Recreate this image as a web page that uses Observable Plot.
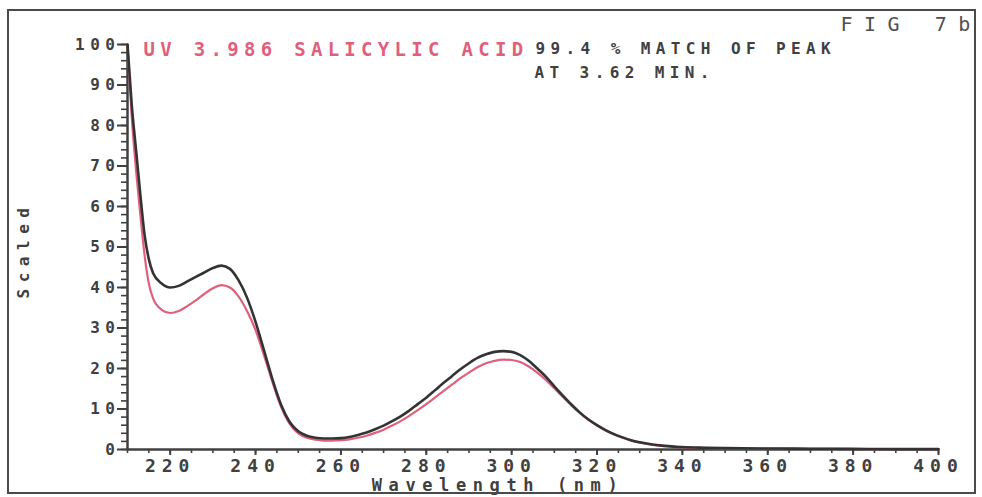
<!DOCTYPE html>
<html>
<head>
<meta charset="utf-8">
<script src="https://cdn.jsdelivr.net/npm/d3@7"></script>
<script src="https://cdn.jsdelivr.net/npm/@observablehq/plot@0.6"></script>
<style>
  html, body { margin: 0; padding: 0; background: #fff; }
  #wrap { position: relative; width: 982px; height: 497px; overflow: hidden; }
  #border { position: absolute; left: 7px; top: 9px; width: 969px; height: 485px; border: 2px solid #4a4a4a; box-sizing: border-box; pointer-events: none; }
  svg { display: block; }
</style>
</head>
<body>
<div id="wrap"><div id="border"></div></div>
<script>
// Wavelength (nm)
const wavelengths = [210,211,212,213,214,215,216,218,220,222,224,226,228,230,232,234,236,238,240,242,244,246,248,250,252,254,256,258,260,262,264,266,268,270,272,274,276,278,280,282,284,286,288,290,292,294,296,298,300,302,304,306,308,310,312,314,316,318,320,322,324,326,328,330,332,334,336,338,340,345,350,360,370,380,390,400];
// Sample spectrum (black)
const sampleValues = [100,85,74,63,53,47,43.5,41,40,40.4,41.5,42.6,43.7,44.8,45.4,44.6,41.8,37.5,31.5,24.4,17.2,11,6.8,4.5,3.4,2.9,2.7,2.7,2.8,3.1,3.6,4.2,5,5.9,7,8.2,9.6,11.2,12.8,14.6,16.4,18.1,19.8,21.3,22.6,23.5,24.1,24.3,24.1,23.3,21.9,20,18,15.6,13.3,11.1,9.1,7.4,6,4.8,3.8,3,2.3,1.8,1.4,1.1,0.9,0.7,0.6,0.45,0.35,0.25,0.2,0.15,0.1,0.1];
// Library spectrum: UV 3.986 Salicylic acid (red)
const libraryValues = [100,82,69,58,48,41,37.3,34.5,33.7,34.2,35.4,36.8,38.4,39.8,40.6,40,37.8,34.2,29.5,23.2,16.5,10.5,6.3,4,2.9,2.4,2.2,2.2,2.3,2.5,2.9,3.4,4.1,4.9,5.9,7,8.3,9.7,11.2,12.8,14.4,16,17.6,19,20.3,21.3,21.9,22.2,22.1,21.6,20.5,19,17.2,15.1,13,10.9,9,7.3,5.9,4.7,3.7,2.9,2.2,1.7,1.3,1,0.8,0.65,0.55,0.4,0.3,0.2,0.15,0.12,0.1,0.1];

const xMajorTicks = [220,240,260,280,300,320,340,360,380,400];
const xMinorTicks = d3.range(210, 401, 5);
const yMajorTicks = [0,10,20,30,40,50,60,70,80,90,100];
const yMinorTicks = d3.range(0, 101, 2);

const titleText = "UV 3.986 SALICYLIC ACID";
const matchLines = ["99.4 % MATCH OF PEAK", "AT 3.62 MIN."];
const figText = "FIG 7b";
const yLabel = "Scaled";
const xLabel = "Wavelength (nm)";

const sampleRows = wavelengths.map((w, i) => ({w, v: sampleValues[i]}));
const libraryRows = wavelengths.map((w, i) => ({w, v: libraryValues[i]}));

const AX = "#404040";
const RED = "#e0607c";
const FONT = "DejaVu Sans Mono";

const chart = Plot.plot({
  width: 982,
  height: 497,
  marginLeft: 127,
  marginRight: 44,
  marginTop: 44,
  marginBottom: 48,
  x: {domain: [210, 400], label: null},
  y: {domain: [0, 100], label: null},
  style: {fontFamily: FONT, background: "transparent", color: AX},
  marks: [
    Plot.axisY({ticks: yMinorTicks, tickSize: 6, text: null, label: null, stroke: AX, strokeWidth: 1.6, strokeOpacity: 1}),
    Plot.axisY({ticks: yMajorTicks, tickSize: 10, tickPadding: -3, label: null, tickFormat: d => String(d), fontSize: 16, fontWeight: "bold", fill: AX, stroke: AX, strokeWidth: 2, strokeOpacity: 1}),
    Plot.axisX({ticks: xMinorTicks, tickSize: 4, text: null, label: null, stroke: AX, strokeWidth: 1.6, strokeOpacity: 1}),
    Plot.axisX({ticks: xMajorTicks, tickSize: 6, tickPadding: 4, label: null, tickFormat: d => String(d), fontSize: 18, fontWeight: "bold", fill: AX, stroke: AX, strokeWidth: 2, strokeOpacity: 1}),
    Plot.ruleX([210], {stroke: AX, strokeWidth: 2.5}),
    Plot.ruleY([0], {stroke: AX, strokeWidth: 2.5}),
    Plot.line(libraryRows, {x: "w", y: "v", stroke: RED, strokeWidth: 2.2, curve: "monotone-x"}),
    Plot.line(sampleRows, {x: "w", y: "v", stroke: "#333", strokeWidth: 2.6, curve: "monotone-x"}),
    Plot.text([titleText], {frameAnchor: "top-left", dx: 16, dy: 11, textAnchor: "start", lineAnchor: "bottom", fill: RED, fontSize: 19, fontWeight: "bold", className: "t-title"}),
    Plot.text([matchLines[0]], {frameAnchor: "top-left", dx: 408, dy: 9, textAnchor: "start", lineAnchor: "bottom", fill: AX, fontSize: 16, fontWeight: "bold", className: "t-match"}),
    Plot.text([matchLines[1]], {frameAnchor: "top-left", dx: 407, dy: 33, textAnchor: "start", lineAnchor: "bottom", fill: AX, fontSize: 16, fontWeight: "bold", className: "t-match"}),
    Plot.text([figText], {frameAnchor: "top-left", dx: 713, dy: -14, textAnchor: "start", lineAnchor: "bottom", fill: "#505050", fontSize: 20, className: "t-fig"}),
    Plot.text([yLabel], {frameAnchor: "left", dx: -104, dy: 3, rotate: -90, textAnchor: "middle", lineAnchor: "middle", fill: AX, fontSize: 16, fontWeight: "bold", className: "t-ylab"}),
    Plot.text([xLabel], {frameAnchor: "bottom", dx: -35, dy: 41, textAnchor: "middle", lineAnchor: "bottom", fill: AX, fontSize: 17, fontWeight: "bold", className: "t-xlab"})
  ]
});

document.getElementById("wrap").prepend(chart);

const s = d3.select(chart);
s.selectAll("g[aria-label='y-axis tick label'] text").style("letter-spacing", "5.5px");
s.selectAll("g[aria-label='x-axis tick label'] text").style("letter-spacing", "6px");
s.selectAll(".t-title text").style("letter-spacing", "5.3px");
s.selectAll(".t-match text").style("letter-spacing", "5.4px");
s.selectAll(".t-fig text").style("letter-spacing", "11.5px");
s.selectAll(".t-ylab text").style("letter-spacing", "6.5px");
s.selectAll(".t-xlab text").style("letter-spacing", "6.6px");
</script>
</body>
</html>
